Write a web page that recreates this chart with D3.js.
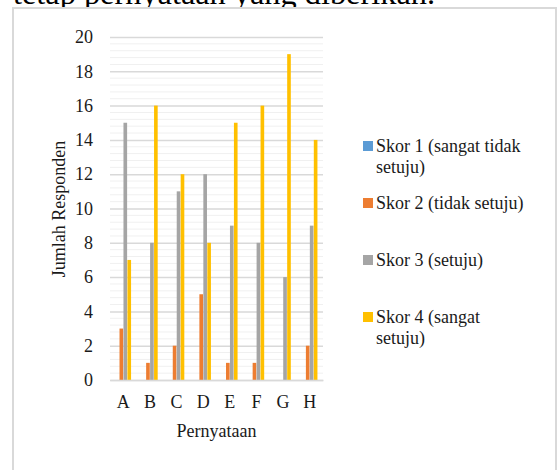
<!DOCTYPE html>
<html>
<head>
<meta charset="utf-8">
<script src="https://cdn.jsdelivr.net/npm/d3@7"></script>
<style>
  html, body { margin: 0; padding: 0; background: #fff; overflow: hidden; }
  svg { display: block; }
</style>
</head>
<body>
<svg id="chart" width="557" height="470"></svg>
<script>
const categories = ["A", "B", "C", "D", "E", "F", "G", "H"];
const seriesNames = ["Skor 1 (sangat tidak setuju)", "Skor 2 (tidak setuju)", "Skor 3 (setuju)", "Skor 4 (sangat setuju)"];
const skor1 = [0, 0, 0, 0, 0, 0, 0, 0];
const skor2 = [3, 1, 2, 5, 1, 1, 0, 2];
const skor3 = [15, 8, 11, 12, 9, 8, 6, 9];
const skor4 = [7, 16, 12, 8, 15, 16, 19, 14];
const yTicks = [0, 2, 4, 6, 8, 10, 12, 14, 16, 18, 20];
const legendLines = [["Skor 1 (sangat tidak", "setuju)"], ["Skor 2 (tidak setuju)"], ["Skor 3 (setuju)"], ["Skor 4 (sangat", "setuju)"]];
const colors = ["#5b9bd5", "#ed7d31", "#a5a5a5", "#ffc000"];

const FONT = "'Liberation Serif', 'Times New Roman', serif";
const FS = "18px";
const seriesValues = [skor1, skor2, skor3, skor4];
const svg = d3.select("#chart");

// caption text cut off at top
svg.append("text").attr("x", 13).attr("y", 3.5)
  .attr("textLength", 422).attr("lengthAdjust", "spacingAndGlyphs")
  .style("font-family", FONT).style("font-size", "31px").attr("fill", "#000")
  .text("tetap pernyataan yang diberikan.");

// chart border
svg.append("rect").attr("x", 13).attr("y", 8).attr("width", 543).attr("height", 470)
  .attr("fill", "#fff").attr("stroke", "#d9d9d9").attr("stroke-width", 2);

const plot = { left: 110, right: 323, top: 37, bottom: 380 };
const x = d3.scaleBand().domain(categories).range([plot.left, plot.right]).paddingInner(0).paddingOuter(0);
const y = d3.scaleLinear().domain([0, 20]).range([plot.bottom, plot.top]);
const x1 = d3.scaleBand().domain(d3.range(4)).range([0, 15.5]).paddingInner(0.08);

const g = svg.append("g");

// minor gridlines
const minor = d3.range(0, 20.001, 0.4).filter(v => Math.abs(v / 2 - Math.round(v / 2)) > 1e-6);
g.selectAll("line.minor").data(minor).join("line")
  .attr("x1", plot.left).attr("x2", plot.right)
  .attr("y1", d => y(d)).attr("y2", d => y(d))
  .attr("stroke", "#f0f0f0").attr("stroke-width", 1);

// y axis with major gridlines
const yAxis = d3.axisLeft(y).tickValues(yTicks).tickSize(-(plot.right - plot.left)).tickPadding(17);
const ya = g.append("g").attr("transform", `translate(${plot.left},0)`).call(yAxis);
ya.attr("font-family", null).attr("font-size", null);
ya.select(".domain").remove();
ya.selectAll(".tick line").attr("stroke", "#d9d9d9").attr("stroke-width", 1.5);
ya.selectAll(".tick text").style("font-size", FS).style("font-family", FONT).attr("fill", "#1a1a1a");

// bars
const groups = g.selectAll("g.cat").data(categories).join("g")
  .attr("transform", d => `translate(${x(d) + x.bandwidth() / 2 - 7.75},0)`);
groups.selectAll("rect").data((d, i) => seriesValues.map((s, k) => ({ k, v: s[i] }))).join("rect")
  .attr("x", d => x1(d.k)).attr("width", x1.bandwidth())
  .attr("y", d => y(d.v)).attr("height", d => y(0) - y(d.v))
  .attr("fill", d => colors[d.k]);

// x axis
const xAxis = d3.axisBottom(x).tickSize(0).tickPadding(15);
const xa = g.append("g").attr("transform", `translate(0,${plot.bottom})`).call(xAxis);
xa.attr("font-family", null).attr("font-size", null);
xa.select(".domain").attr("stroke", "#d9d9d9").attr("stroke-width", 1.5);
xa.selectAll(".tick text").style("font-size", FS).style("font-family", FONT).attr("fill", "#1a1a1a");

// axis titles
svg.append("text").attr("x", 216.5).attr("y", 437).attr("text-anchor", "middle")
  .style("font-family", FONT).style("font-size", FS).attr("fill", "#1a1a1a").text("Pernyataan");
svg.append("text").attr("transform", "translate(65,209) rotate(-90)").attr("text-anchor", "middle")
  .style("font-family", FONT).style("font-size", FS).attr("fill", "#1a1a1a").text("Jumlah Responden");

// legend
const legendY = [146, 203, 260, 317];
const lg = svg.append("g");
legendLines.forEach((lines, i) => {
  lg.append("rect").attr("x", 363).attr("y", legendY[i] - 5).attr("width", 10).attr("height", 10).attr("fill", colors[i]);
  const t = lg.append("text").attr("x", 376).attr("y", legendY[i] + 6)
    .style("font-family", FONT).style("font-size", FS).attr("fill", "#1a1a1a");
  lines.forEach((ln, j) => {
    t.append("tspan").attr("x", 376).attr("dy", j === 0 ? 0 : 21).text(ln);
  });
});
</script>
</body>
</html>
